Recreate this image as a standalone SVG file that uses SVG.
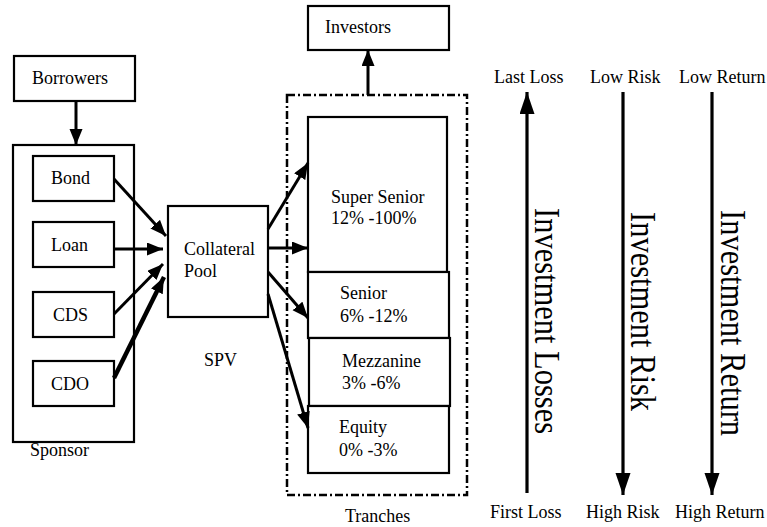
<svg xmlns="http://www.w3.org/2000/svg" width="767" height="527" viewBox="0 0 767 527">
  <style>
    .box { fill: #fff; stroke: #000; stroke-width: 2.2; }
    .lbl { font-family: "Liberation Serif", "Times New Roman", serif; font-size: 18px; fill: #000; }
    .big { font-family: "Liberation Serif", "Times New Roman", serif; font-size: 30.5px; fill: #000; }
    .conn { stroke: #000; stroke-width: 3; fill: none; marker-end: url(#head); }
    .scale { stroke: #000; stroke-width: 3.2; fill: none; }
    .frame { fill: none; stroke: #000; stroke-width: 2.5; stroke-dasharray: 8 3 2 3; }
  </style>
  <defs>
    <marker id="head" markerUnits="userSpaceOnUse" markerWidth="17" markerHeight="14" refX="16" refY="6.5" orient="auto">
      <path d="M0,0 L16,6.5 L0,13 Z" fill="#000"/>
    </marker>
    <marker id="bighead" markerUnits="userSpaceOnUse" markerWidth="23" markerHeight="16" refX="22" refY="7.5" orient="auto">
      <path d="M0,0 L22,7.5 L0,15 Z" fill="#000"/>
    </marker>
  </defs>

  <rect width="767" height="527" fill="#fff"/>

  <!-- Sponsor side -->
  <g id="borrowers">
    <rect class="box" x="14" y="56" width="121" height="45"/>
    <text class="lbl" x="32" y="84">Borrowers</text>
  </g>
  <g id="sponsor">
    <rect class="box" x="13" y="145" width="121" height="297"/>
    <text class="lbl" x="30" y="456">Sponsor</text>
  </g>
  <g id="bond">
    <rect class="box" x="33" y="156" width="81" height="45"/>
    <text class="lbl" x="51" y="184">Bond</text>
  </g>
  <g id="loan">
    <rect class="box" x="33" y="222" width="81" height="45"/>
    <text class="lbl" x="51" y="251">Loan</text>
  </g>
  <g id="cds">
    <rect class="box" x="33" y="292" width="81" height="45"/>
    <text class="lbl" x="53" y="321">CDS</text>
  </g>
  <g id="cdo">
    <rect class="box" x="33" y="361" width="81" height="45"/>
    <text class="lbl" x="51" y="390">CDO</text>
  </g>

  <!-- SPV -->
  <g id="collateral-pool">
    <rect class="box" x="168" y="206" width="100" height="111"/>
    <text class="lbl" x="184" y="255">Collateral</text>
    <text class="lbl" x="184" y="277">Pool</text>
  </g>
  <g id="spv">
    <text class="lbl" x="204" y="366">SPV</text>
  </g>

  <!-- Tranches -->
  <g id="investors">
    <rect class="box" x="308" y="6" width="141" height="44"/>
    <text class="lbl" x="325" y="33">Investors</text>
  </g>
  <g id="tranches">
    <rect class="frame" x="287" y="95" width="180" height="400"/>
    <text class="lbl" x="345" y="522">Tranches</text>
  </g>
  <g id="super-senior">
    <rect class="box" x="308" y="117" width="139" height="155"/>
    <text class="lbl" x="331" y="203">Super Senior</text>
    <text class="lbl" x="331" y="224">12% -100%</text>
  </g>
  <g id="senior">
    <rect class="box" x="308" y="272" width="141" height="66"/>
    <text class="lbl" x="340" y="299">Senior</text>
    <text class="lbl" x="340" y="322">6% -12%</text>
  </g>
  <g id="mezzanine">
    <rect class="box" x="309" y="338" width="141" height="68"/>
    <text class="lbl" x="342" y="367">Mezzanine</text>
    <text class="lbl" x="342" y="389">3% -6%</text>
  </g>
  <g id="equity">
    <rect class="box" x="308" y="406" width="141" height="67"/>
    <text class="lbl" x="339" y="433">Equity</text>
    <text class="lbl" x="339" y="456">0% -3%</text>
  </g>

  <!-- Connectors -->
  <g id="connectors">
    <line class="conn" x1="76" y1="101" x2="76" y2="145"/>
    <line class="conn" x1="114" y1="179" x2="166" y2="236"/>
    <line class="conn" x1="114" y1="249" x2="163" y2="249"/>
    <line class="conn" x1="114" y1="314" x2="163" y2="264"/>
    <line class="conn" x1="114" y1="378" x2="164" y2="277" style="stroke-width:4.5"/>
    <line class="conn" x1="268" y1="229" x2="308" y2="163"/>
    <line class="conn" x1="268" y1="248" x2="308" y2="248"/>
    <line class="conn" x1="268" y1="272" x2="308" y2="318"/>
    <line class="conn" x1="268" y1="294" x2="308" y2="428"/>
    <line class="conn" x1="368" y1="95" x2="368" y2="50"/>
  </g>

  <!-- Investment scales -->
  <g id="scale-losses">
    <text class="lbl" x="494" y="83">Last Loss</text>
    <line class="scale" x1="527" y1="493" x2="527" y2="92" marker-end="url(#bighead)"/>
    <text class="big" transform="translate(535,208) rotate(90) scale(1,1.15)">Investment Losses</text>
    <text class="lbl" x="490" y="518">First Loss</text>
  </g>
  <g id="scale-risk">
    <text class="lbl" x="590" y="83">Low Risk</text>
    <line class="scale" x1="623" y1="92" x2="623" y2="495" marker-end="url(#bighead)"/>
    <text class="big" transform="translate(631,212) rotate(90) scale(1,1.15)">Investment Risk</text>
    <text class="lbl" x="586" y="518">High Risk</text>
  </g>
  <g id="scale-return">
    <text class="lbl" x="679" y="83">Low Return</text>
    <line class="scale" x1="712" y1="92" x2="712" y2="495" marker-end="url(#bighead)"/>
    <text class="big" transform="translate(721,210) rotate(90) scale(1,1.15)">Investment Return</text>
    <text class="lbl" x="675" y="518">High Return</text>
  </g>
</svg>
